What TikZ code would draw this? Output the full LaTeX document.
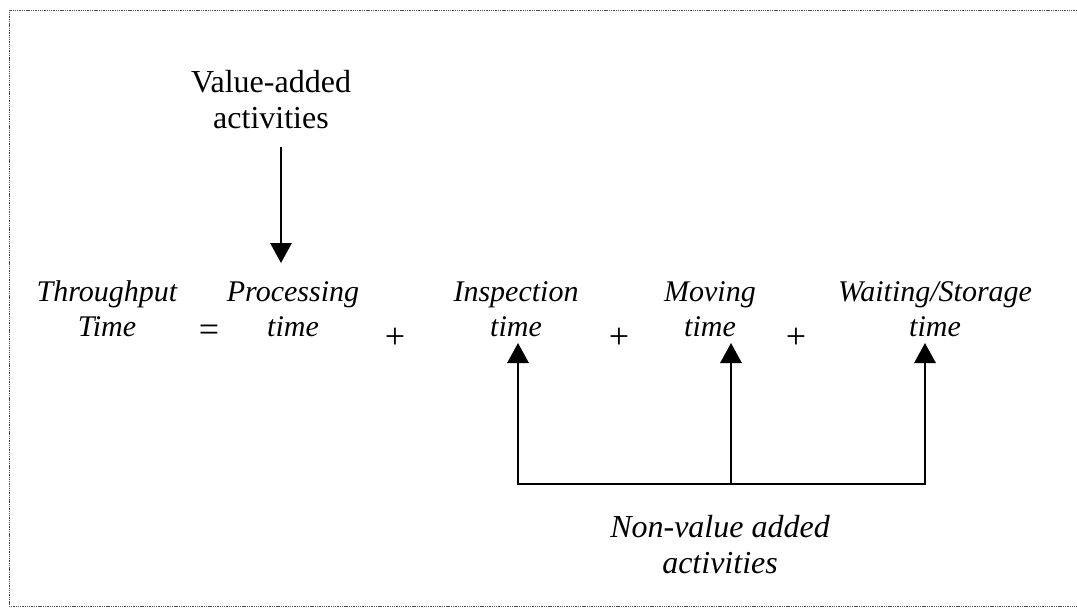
\documentclass[tikz,border=0pt]{standalone}
\usepackage{fontspec}
\setmainfont{Liberation Serif}
\usetikzlibrary{arrows.meta}

\begin{document}
\begin{tikzpicture}[
  x=0.75pt, y=-0.75pt,
  term/.style={inner sep=0pt, align=center, anchor=base,
    font=\fontsize{22.5}{26.25}\selectfont\itshape},
  oper/.style={inner sep=0pt, anchor=center,
    font=\fontsize{27}{30}\selectfont},
  label/.style={inner sep=0pt, align=center, anchor=base,
    font=\fontsize{24}{27}\selectfont},
  frame/.style={line width=0.7pt, gray!60!black, dash pattern=on 1pt off 0.7pt},
  arr/.style={line width=1.5pt, -{Triangle[length=15pt,width=16pt]}},
  bar/.style={line width=1.7pt}
]
\useasboundingbox (0,0) rectangle (1077,610);

% dotted frame, open on the right
\draw[frame] (1077,10) -- (9,10) -- (9,606) -- (1077,606);

% top label (anchored on the baseline of its last line)
\node[label] (va) at (271,128) {Value-added\\activities};

% the equation
\node[term] (tt) at (107,336) {Throughput\\Time};
\node[oper] (eq) at (209,333) {=};
\node[term] (pt) at (293,336) {Processing\\time};
\node[oper] (p1) at (395,338) {+};
\node[term] (it) at (516,336) {Inspection\\time};
\node[oper] (p2) at (619,338) {+};
\node[term] (mt) at (710,336) {Moving\\time};
\node[oper] (p3) at (796,338) {+};
\node[term] (wt) at (935,336) {Waiting/Storage\\time};

% bottom label
\node[label, font=\fontsize{24}{27}\selectfont\itshape] (nv) at (720,573) {Non-value added\\activities};

% value-added arrow
\coordinate (vaTop) at (281,147);
\coordinate (vaTip) at (281,263);
\draw[arr] (vaTop) -- (vaTip);

% non-value-added bracket and arrows
\coordinate (b1) at (518,484);
\coordinate (b2) at (731,484);
\coordinate (b3) at (925,484);
\coordinate (t1) at (518,343);
\coordinate (t2) at (731,343);
\coordinate (t3) at (925,343);
\draw[bar] ([xshift=-0.75pt]b1) -- ([xshift=0.75pt]b3);
\draw[arr] (b1) -- (t1);
\draw[arr] (b2) -- (t2);
\draw[arr] (b3) -- (t3);
\end{tikzpicture}
\end{document}
